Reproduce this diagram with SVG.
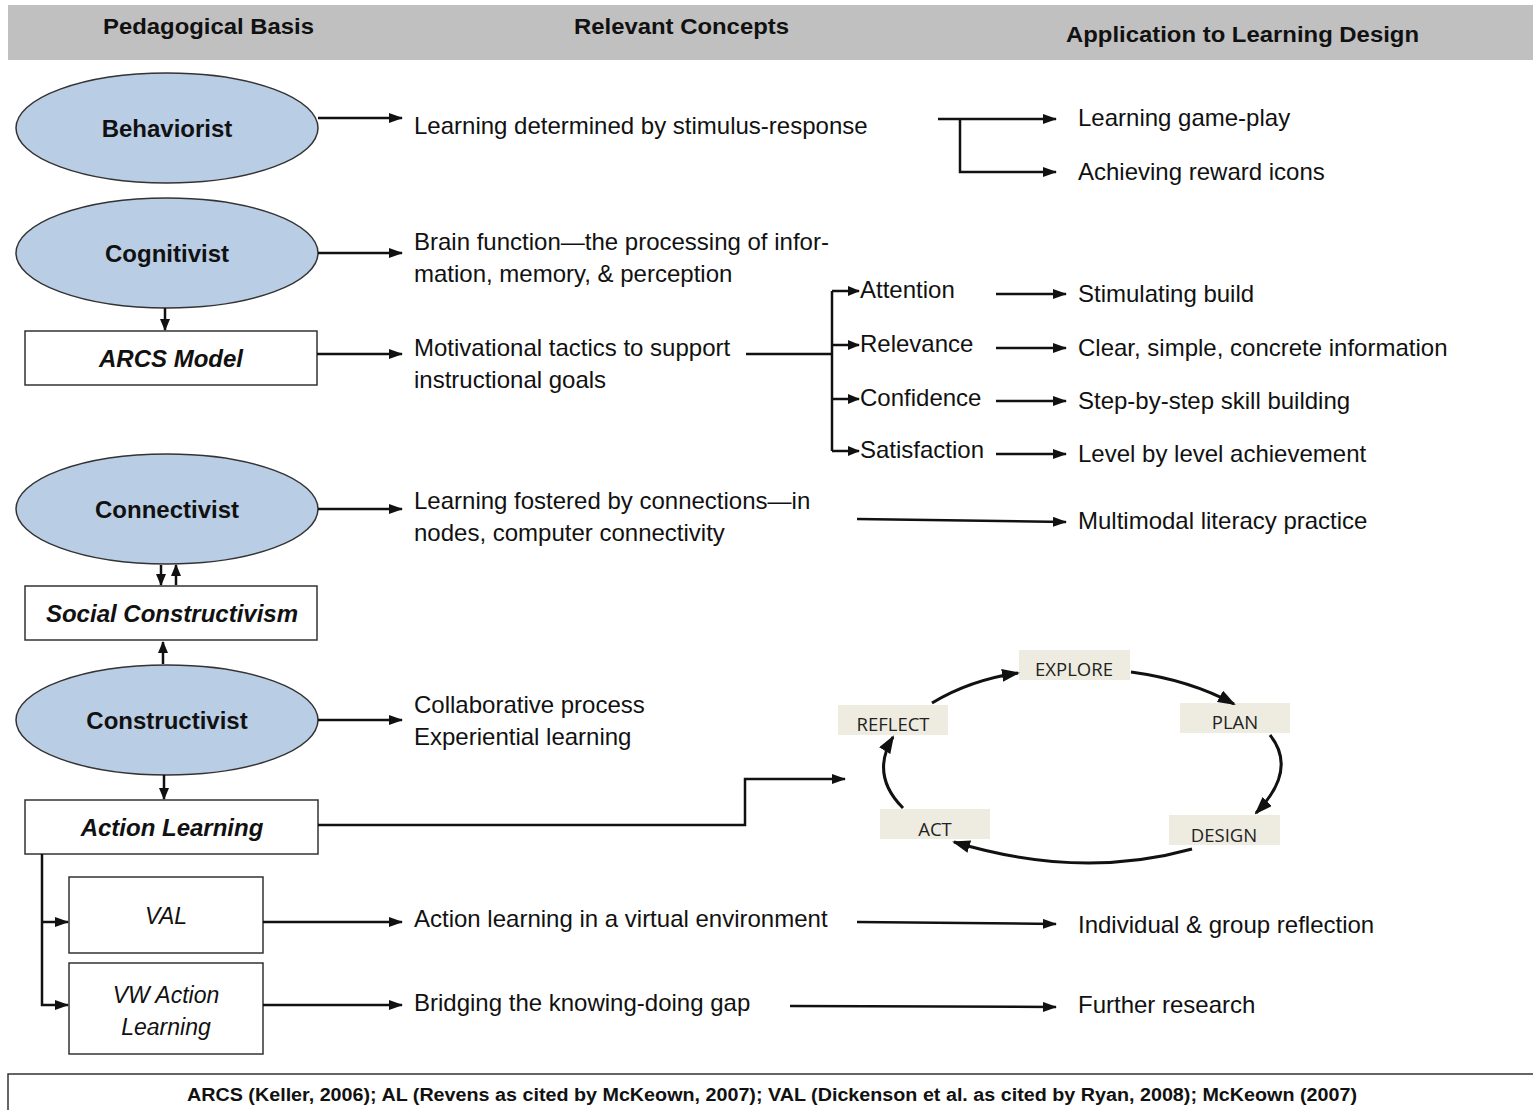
<svg xmlns="http://www.w3.org/2000/svg" width="1533" height="1110" viewBox="0 0 1533 1110">
<defs>
<marker id="ah" viewBox="0 0 14 10" refX="13" refY="5" markerWidth="14" markerHeight="10" markerUnits="userSpaceOnUse" orient="auto">
<path d="M0,0 L14,5 L0,10 z" fill="#111"/>
</marker>
<marker id="ahs" viewBox="0 0 12 10" refX="11" refY="5" markerWidth="12" markerHeight="10" markerUnits="userSpaceOnUse" orient="auto">
<path d="M0,0 L12,5 L0,10 z" fill="#111"/>
</marker>
<marker id="ahc" viewBox="0 0 18 13" refX="16" refY="6.5" markerWidth="18" markerHeight="13" markerUnits="userSpaceOnUse" orient="auto">
<path d="M0,0 L18,6.5 L0,13 z" fill="#111"/>
</marker>
</defs>
<style>
.hd{font-family:"Liberation Sans",Arial,sans-serif;font-weight:bold;font-size:22px;fill:#111}
.ell{fill:#b9cde5;stroke:#333;stroke-width:1.5}
.box{fill:#fff;stroke:#333;stroke-width:1.5}
.nl{font-family:"Liberation Sans",Arial,sans-serif;font-weight:bold;font-size:24px;fill:#111;text-anchor:middle}
.bi{font-family:"Liberation Sans",Arial,sans-serif;font-weight:bold;font-style:italic;font-size:24px;fill:#111;text-anchor:middle}
.it{font-family:"Liberation Sans",Arial,sans-serif;font-style:italic;font-size:23px;fill:#111;text-anchor:middle}
.t{font-family:"Liberation Sans",Arial,sans-serif;font-size:24px;fill:#111}
.cb{fill:#eeece1}
.ct{font-family:"Open Sans","Noto Sans",sans-serif;font-size:18.5px;fill:#222;text-anchor:middle}
.ln{fill:none;stroke:#111;stroke-width:2.5}
.cv{fill:none;stroke:#111;stroke-width:3}
.ft{font-family:"Liberation Sans",Arial,sans-serif;font-weight:bold;font-size:18px;fill:#111;text-anchor:middle}
</style>
<rect width="1533" height="1110" fill="#fff"/>
<g id="header">
<rect x="8" y="5" width="1525" height="55" fill="#c0c0c0"/>
<text class="hd" x="103" y="34" textLength="211" lengthAdjust="spacingAndGlyphs">Pedagogical Basis</text>
<text class="hd" x="574" y="34" textLength="215" lengthAdjust="spacingAndGlyphs">Relevant Concepts</text>
<text class="hd" x="1066" y="42" textLength="353" lengthAdjust="spacingAndGlyphs">Application to Learning Design</text>
</g>
<g id="behaviorist"><ellipse class="ell" cx="167" cy="128" rx="151" ry="55"/><text class="nl" x="167" y="137">Behaviorist</text></g>
<g id="cognitivist"><ellipse class="ell" cx="167" cy="253" rx="151" ry="55"/><text class="nl" x="167" y="262">Cognitivist</text></g>
<g id="arcs"><rect class="box" x="25" y="331" width="292" height="54"/><text class="bi" x="171" y="367">ARCS Model</text></g>
<g id="connectivist"><ellipse class="ell" cx="167" cy="509" rx="151" ry="55"/><text class="nl" x="167" y="518">Connectivist</text></g>
<g id="social"><rect class="box" x="25" y="586" width="292" height="54"/><text class="bi" x="172" y="622">Social Constructivism</text></g>
<g id="constructivist"><ellipse class="ell" cx="167" cy="720" rx="151" ry="55"/><text class="nl" x="167" y="729">Constructivist</text></g>
<g id="action-learning"><rect class="box" x="25" y="800" width="293" height="54"/><text class="bi" x="172" y="836">Action Learning</text></g>
<g id="val"><rect class="box" x="69" y="877" width="194" height="76"/><text class="it" x="166" y="924">VAL</text></g>
<g id="vw"><rect class="box" x="69" y="963" width="194" height="91"/><text class="it" x="166" y="1003">VW Action</text><text class="it" x="166" y="1035">Learning</text></g>

<g id="texts">
<text class="t" x="414" y="134">Learning determined by stimulus-response</text>
<text class="t" x="1078" y="126">Learning game-play</text>
<text class="t" x="1078" y="180">Achieving reward icons</text>
<text class="t" x="414" y="250">Brain function—the processing of infor-</text>
<text class="t" x="414" y="282">mation, memory, &amp; perception</text>
<text class="t" x="414" y="356">Motivational tactics to support</text>
<text class="t" x="414" y="388">instructional goals</text>
<text class="t" x="860" y="298">Attention</text>
<text class="t" x="860" y="352">Relevance</text>
<text class="t" x="860" y="406">Confidence</text>
<text class="t" x="860" y="458">Satisfaction</text>
<text class="t" x="1078" y="302">Stimulating build</text>
<text class="t" x="1078" y="356">Clear, simple, concrete information</text>
<text class="t" x="1078" y="409">Step-by-step skill building</text>
<text class="t" x="1078" y="462">Level by level achievement</text>
<text class="t" x="414" y="509">Learning fostered by connections—in</text>
<text class="t" x="414" y="541">nodes, computer connectivity</text>
<text class="t" x="1078" y="529">Multimodal literacy practice</text>
<text class="t" x="414" y="713">Collaborative process</text>
<text class="t" x="414" y="745">Experiential learning</text>
<text class="t" x="414" y="927">Action learning in a virtual environment</text>
<text class="t" x="1078" y="933">Individual &amp; group reflection</text>
<text class="t" x="414" y="1011">Bridging the knowing-doing gap</text>
<text class="t" x="1078" y="1013">Further research</text>
</g>

<g id="cycle">
<g id="explore"><rect class="cb" x="1019" y="650" width="111" height="30"/><text class="ct" x="1074" y="676">EXPLORE</text></g>
<g id="reflect"><rect class="cb" x="838" y="705" width="110" height="30"/><text class="ct" x="893" y="731">REFLECT</text></g>
<g id="plan"><rect class="cb" x="1180" y="703" width="110" height="30"/><text class="ct" x="1235" y="729">PLAN</text></g>
<g id="act"><rect class="cb" x="880" y="809" width="110" height="30"/><text class="ct" x="935" y="836">ACT</text></g>
<g id="design"><rect class="cb" x="1169" y="815" width="111" height="30"/><text class="ct" x="1224" y="842">DESIGN</text></g>
</g>

<g id="connectors">
<path class="ln" d="M318,118 H402" marker-end="url(#ah)"/>
<path class="ln" d="M938,119 H1056" marker-end="url(#ah)"/>
<path class="ln" d="M960,119 V172 H1056" marker-end="url(#ah)"/>
<path class="ln" d="M318,253 H402" marker-end="url(#ah)"/>
<path class="ln" d="M165,308 V330" marker-end="url(#ahs)"/>
<path class="ln" d="M317,354 H402" marker-end="url(#ah)"/>
<path class="ln" d="M746,354 H832"/>
<path class="ln" d="M832,291 V451"/>
<path class="ln" d="M832,291 H859" marker-end="url(#ahs)"/>
<path class="ln" d="M832,345 H859" marker-end="url(#ahs)"/>
<path class="ln" d="M832,399 H859" marker-end="url(#ahs)"/>
<path class="ln" d="M832,451 H859" marker-end="url(#ahs)"/>
<path class="ln" d="M996,294 H1066" marker-end="url(#ah)"/>
<path class="ln" d="M996,348 H1066" marker-end="url(#ah)"/>
<path class="ln" d="M996,401 H1066" marker-end="url(#ah)"/>
<path class="ln" d="M996,454 H1066" marker-end="url(#ah)"/>
<path class="ln" d="M318,509 H402" marker-end="url(#ah)"/>
<path class="ln" d="M857,519 L1066,522" marker-end="url(#ah)"/>
<path class="ln" d="M161,565 V585" marker-end="url(#ahs)"/>
<path class="ln" d="M176,585 V565" marker-end="url(#ahs)"/>
<path class="ln" d="M163,664 V642" marker-end="url(#ahs)"/>
<path class="ln" d="M318,720 H402" marker-end="url(#ah)"/>
<path class="ln" d="M164,775 V799" marker-end="url(#ahs)"/>
<path class="ln" d="M318,825 H745 V779 H845" marker-end="url(#ah)"/>
<path class="ln" d="M42,854 V1005 H68" marker-end="url(#ah)"/>
<path class="ln" d="M42,922 H68" marker-end="url(#ah)"/>
<path class="ln" d="M263,922 H402" marker-end="url(#ah)"/>
<path class="ln" d="M857,922 L1056,924" marker-end="url(#ah)"/>
<path class="ln" d="M263,1005 H402" marker-end="url(#ah)"/>
<path class="ln" d="M790,1006 L1056,1007" marker-end="url(#ah)"/>
<path class="cv" d="M932,703 Q970,680 1018,673" marker-end="url(#ahc)"/>
<path class="cv" d="M1131,672 Q1190,680 1234,704" marker-end="url(#ahc)"/>
<path class="cv" d="M1270,735 Q1298,770 1256,813" marker-end="url(#ahc)"/>
<path class="cv" d="M1192,849 Q1080,880 954,842" marker-end="url(#ahc)"/>
<path class="cv" d="M903,808 Q870,775 893,737" marker-end="url(#ahc)"/>
</g>

<g id="footer">
<rect x="8" y="1074" width="1530" height="50" fill="#fff" stroke="#333" stroke-width="1.5"/>
<text class="ft" x="772" y="1101" textLength="1170" lengthAdjust="spacingAndGlyphs">ARCS (Keller, 2006); AL (Revens as cited by McKeown, 2007); VAL (Dickenson et al. as cited by Ryan, 2008); McKeown (2007)</text>
</g>
</svg>
